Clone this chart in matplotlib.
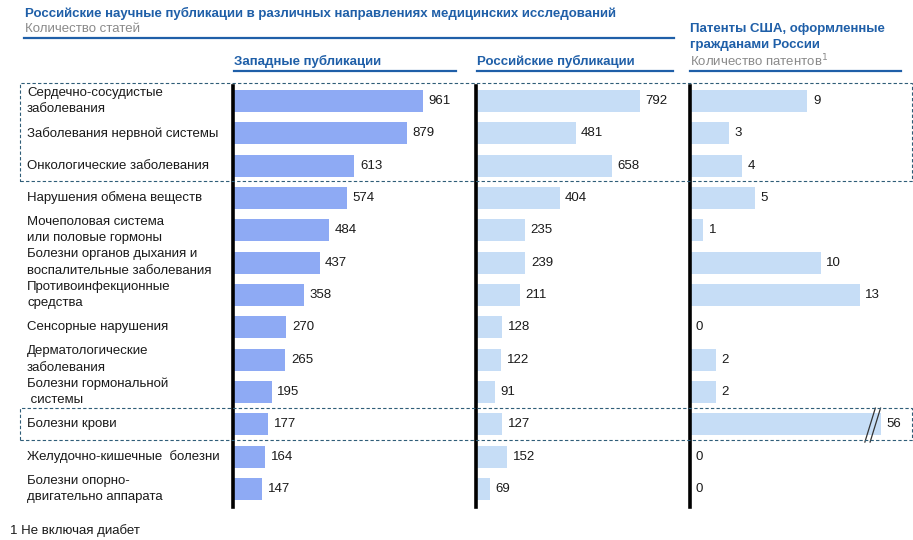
#!/usr/bin/env python3
"""Russian medical publications and US patents by research area: three bar panels."""

import matplotlib
matplotlib.use("Agg")
import matplotlib.pyplot as plt
from matplotlib.patches import Rectangle
from matplotlib.transforms import blended_transform_factory

plt.rcParams["font.family"] = ["Liberation Sans", "DejaVu Sans"]

categories = [
    "Сердечно-сосудистые\nзаболевания",
    "Заболевания нервной системы",
    "Онкологические заболевания",
    "Нарушения обмена веществ",
    "Мочеполовая система\nили половые гормоны",
    "Болезни органов дыхания и\nвоспалительные заболевания",
    "Противоинфекционные\nсредства",
    "Сенсорные нарушения",
    "Дерматологические\nзаболевания",
    "Болезни гормональной\n системы",
    "Болезни крови",
    "Желудочно-кишечные  болезни",
    "Болезни опорно-\nдвигательно аппарата",
]
western = [961, 879, 613, 574, 484, 437, 358, 270, 265, 195, 177, 164, 147]
russian = [792, 481, 658, 404, 235, 239, 211, 128, 122, 91, 127, 152, 69]
patents = [9, 3, 4, 5, 1, 10, 13, 0, 2, 2, 56, 0, 0]
patent_cap = 14.6  # the 56 bar is drawn broken at this length

W, H = 913, 540
BLUE = "#1f5fa8"
GREY = "#8a8a8a"
DASH = "#2f5d78"
WEST_COL = "#8eaaf4"
LIGHT_COL = "#c6ddf6"
FS = 9.5


def fx(x):
    return x / W


def fy(y):
    return 1 - y / H


fig = plt.figure(figsize=(W / 100, H / 100), dpi=100)

# axes span in pixels (top of axis lines to bottom)
top, bottom = 86, 507
row0, step = 101, 32.33
ylim = (12 + (bottom - (row0 + 12 * step)) / step, -(row0 - top) / step)


def make_axes(left, right, scale):
    ax = fig.add_axes([fx(left), fy(bottom), fx(right - left), (bottom - top) / H])
    ax.set_xlim(0, (right - left) / scale)
    ax.set_ylim(*ylim)
    for s in ["top", "right", "bottom"]:
        ax.spines[s].set_visible(False)
    ax.spines["left"].set_linewidth(2.6)
    ax.spines["left"].set_color("black")
    ax.set_xticks([])
    ax.set_yticks([])
    ax.patch.set_alpha(0)
    return ax


ax1 = make_axes(233, 456, 0.198)
ax2 = make_axes(476, 673, 0.207)
ax3 = make_axes(690, 901, 13.05)

ypos = list(range(len(categories)))
bar_h = 0.68


def value_labels(ax, xs, texts):
    for y, x, t in zip(ypos, xs, texts):
        ax.annotate(str(t), (x, y), xytext=(4, 0), textcoords="offset points",
                    va="center", ha="left", fontsize=FS, color="#1a1a1a")


ax1.barh(ypos, western, height=bar_h, color=WEST_COL, zorder=2)
value_labels(ax1, western, western)

ax2.barh(ypos, russian, height=bar_h, color=LIGHT_COL, zorder=2)
value_labels(ax2, russian, russian)

shown = [min(v, patent_cap) for v in patents]
ax3.barh(ypos, shown, height=bar_h, color=LIGHT_COL, zorder=2)
value_labels(ax3, shown, patents)

# break mark on the capped bar
for i, v in enumerate(patents):
    if v > patent_cap:
        for dx in (-0.85, -0.45):
            x0 = patent_cap + dx
            ax3.plot([x0 - 0.35, x0 + 0.45], [i + 0.55, i - 0.5], color="#333333",
                     lw=0.9, zorder=3, clip_on=False)

# row labels
tr = blended_transform_factory(fig.transFigure, ax1.transData)
for y, name in zip(ypos, categories):
    fig.text(fx(27), y, name, transform=tr, va="center", ha="left",
             fontsize=FS, color="#1a1a1a", linespacing=1.48)

# headers
fig.text(fx(25), fy(13), "Российские научные публикации в различных направлениях медицинских исследований",
         fontsize=FS, fontweight="bold", color=BLUE, va="center")
fig.text(fx(25), fy(29), "Количество статей", fontsize=FS, color=GREY, va="center")
fig.add_artist(plt.Line2D([fx(24), fx(674)], [fy(38), fy(38)], color=BLUE, lw=1.6))

fig.text(fx(234), fy(61), "Западные публикации", fontsize=FS, fontweight="bold", color=BLUE, va="center")
fig.add_artist(plt.Line2D([fx(234), fx(456)], [fy(71), fy(71)], color=BLUE, lw=1.6))

fig.text(fx(477), fy(61), "Российские публикации", fontsize=FS, fontweight="bold", color=BLUE, va="center")
fig.add_artist(plt.Line2D([fx(477), fx(673)], [fy(71), fy(71)], color=BLUE, lw=1.6))

fig.text(fx(690), fy(29), "Патенты США, оформленные", fontsize=FS, fontweight="bold", color=BLUE, va="center")
fig.text(fx(690), fy(45), "гражданами России", fontsize=FS, fontweight="bold", color=BLUE, va="center")
fig.text(fx(690), fy(61), "Количество патентов$^{1}$", fontsize=FS, color=GREY, va="center")
fig.add_artist(plt.Line2D([fx(690), fx(901)], [fy(71), fy(71)], color=BLUE, lw=1.6))

# dashed highlight boxes
for y0, y1 in [(83, 181), (408, 440)]:
    fig.add_artist(Rectangle((fx(20), fy(y1)), fx(912 - 20), (y1 - y0) / H,
                             fill=False, ec=DASH, lw=0.8, ls=(0, (3, 2)),
                             transform=fig.transFigure, zorder=5))

fig.text(fx(10), fy(531), "1 Не включая диабет", fontsize=FS, color="#1a1a1a", va="center")

fig.savefig("out.png", dpi=100, facecolor="white")
